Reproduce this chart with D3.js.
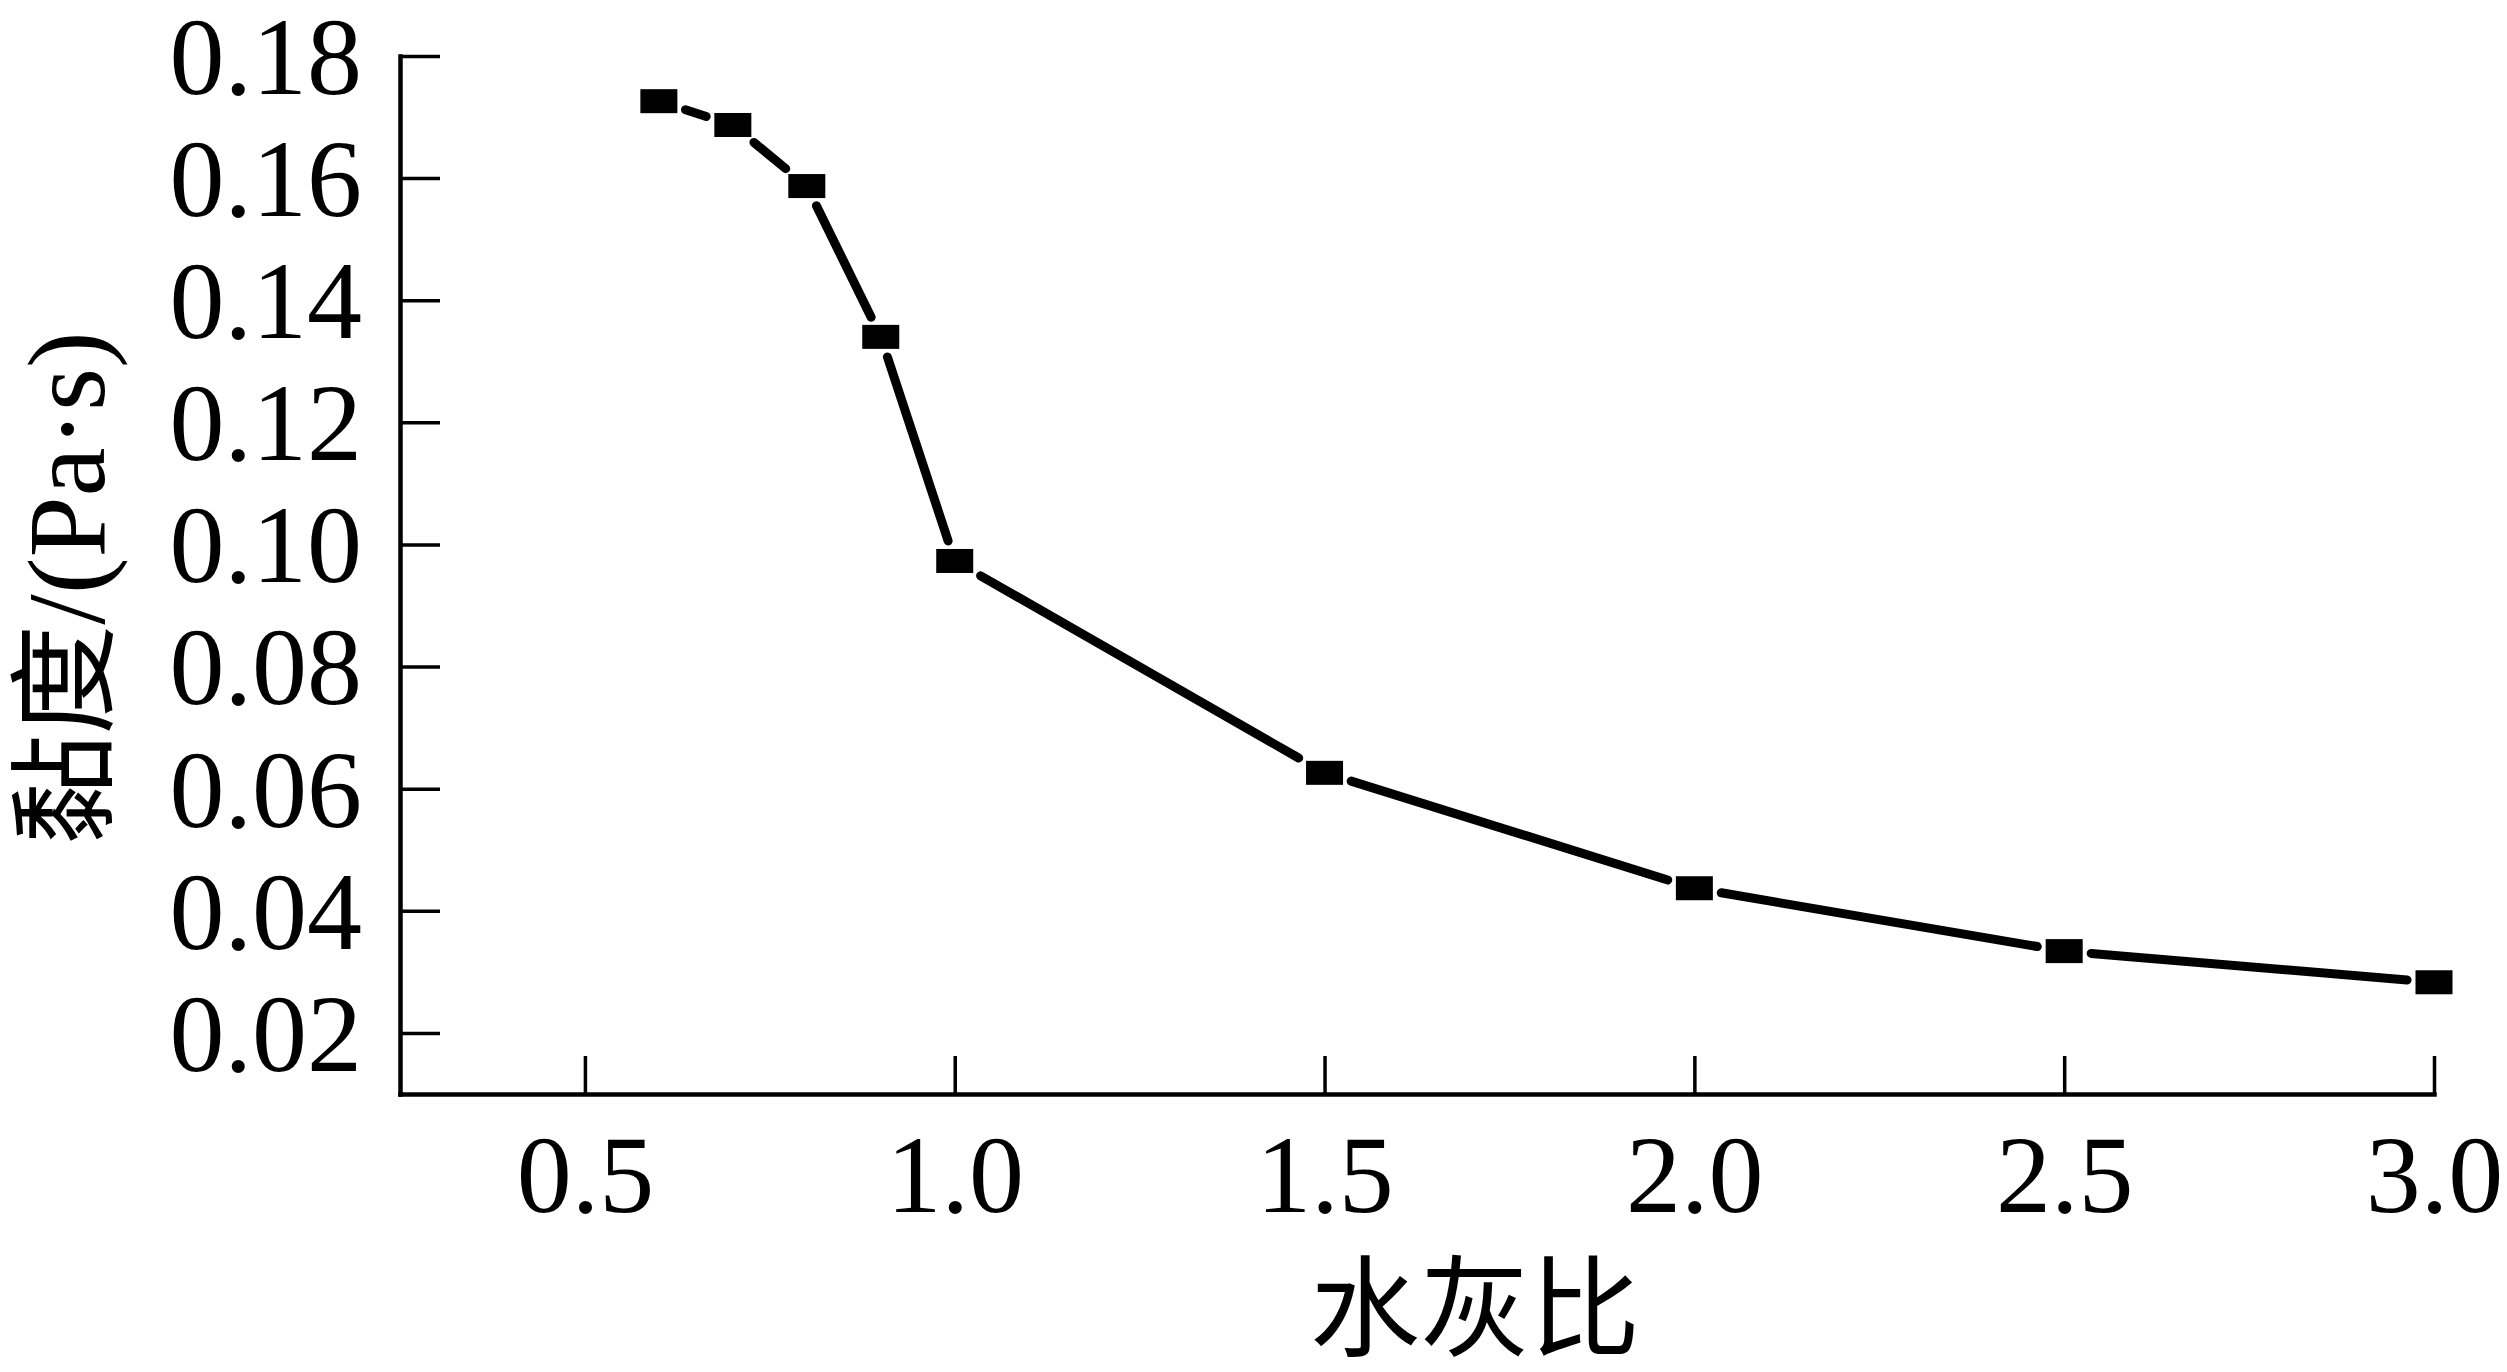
<!DOCTYPE html>
<html>
<head>
<meta charset="utf-8">
<script src="https://cdn.jsdelivr.net/npm/d3@7"></script>
<style>
  html, body { margin: 0; padding: 0; background: #fff; }
  svg { display: block; }
  text { font-family: "Liberation Serif", "Noto Sans CJK SC", serif; fill: #000; }
</style>
</head>
<body>
<svg id="chart" width="2507" height="1372"></svg>
<script>
// water-cement ratio vs viscosity
const ratios = [0.6, 0.7, 0.8, 0.9, 1.0, 1.5, 2.0, 2.5, 3.0];
const viscosity = [0.1726, 0.1687, 0.1587, 0.1340, 0.0973, 0.0626, 0.0437, 0.0334, 0.0283];
const xTicks = [0.5, 1.0, 1.5, 2.0, 2.5, 3.0];
const yTicks = [0.02, 0.04, 0.06, 0.08, 0.10, 0.12, 0.14, 0.16, 0.18];
const xTitle = '水灰比';
const yTitle = '黏度/(Pa·s)';

var svg = d3.select('#chart'),
  width = +svg.attr('width'),
  height = +svg.attr('height');

var margin = { top: 56, right: 73, bottom: 278, left: 400 };

var x = d3.scaleLinear().domain([0.25, 3.0]).range([margin.left, width - margin.right]);
var y = d3.scaleLinear().domain([0.01, 0.18]).range([height - margin.bottom, margin.top]);

var data = ratios.map((r, i) => ({ r: r, v: viscosity[i] }));

// axes, ticks pointing inward
var xAxis = svg.append('g')
  .attr('transform', 'translate(0,' + y.range()[0] + ')')
  .call(d3.axisBottom(x).tickValues(xTicks).tickFormat(d3.format('.1f'))
    .tickSizeInner(-38).tickSizeOuter(0).tickPadding(40));

var yAxis = svg.append('g')
  .attr('transform', 'translate(' + x.range()[0] + ',0)')
  .call(d3.axisLeft(y).tickValues(yTicks).tickFormat(d3.format('.2f'))
    .tickSizeInner(-40).tickSizeOuter(0).tickPadding(38));

[xAxis, yAxis].forEach(g => {
  g.select('.domain').attr('stroke', '#000').attr('stroke-width', 4.5).attr('stroke-linecap', 'square');
  g.selectAll('.tick line').attr('stroke', '#000').attr('stroke-width', 3.5);
  g.selectAll('.tick text').attr('font-size', 110).attr('fill', '#000')
    .style('font-family', '"Liberation Serif", serif');
});
xAxis.selectAll('.tick text').attr('dy', '0.71em');
yAxis.selectAll('.tick text').attr('dy', '0.34em');

// line segments, cut back so they stop short of each marker
var mw = 37, mh = 24, gap = 8.5, lw = 9;

function exitDist(ux, uy) {
  var tx = Math.abs(ux) > 1e-9 ? (mw / 2) / Math.abs(ux) : Infinity;
  var ty = Math.abs(uy) > 1e-9 ? (mh / 2) / Math.abs(uy) : Infinity;
  return Math.min(tx, ty);
}

var segs = d3.pairs(data).map(function(p) {
  var x1 = x(p[0].r), y1 = y(p[0].v), x2 = x(p[1].r), y2 = y(p[1].v);
  var dx = x2 - x1, dy = y2 - y1, len = Math.hypot(dx, dy);
  var ux = dx / len, uy = dy / len;
  var cut = exitDist(ux, uy) + gap;
  return { x1: x1 + ux * cut, y1: y1 + uy * cut, x2: x2 - ux * cut, y2: y2 - uy * cut };
});

svg.append('g')
  .selectAll('line')
  .data(segs)
  .enter()
  .append('line')
  .attr('x1', d => d.x1)
  .attr('y1', d => d.y1)
  .attr('x2', d => d.x2)
  .attr('y2', d => d.y2)
  .attr('stroke', '#000')
  .attr('stroke-width', lw)
  .attr('stroke-linecap', 'round');

svg.append('g')
  .selectAll('rect')
  .data(data)
  .enter()
  .append('rect')
  .attr('x', d => x(d.r) - mw / 2)
  .attr('y', d => y(d.v) - mh / 2)
  .attr('width', mw)
  .attr('height', mh)
  .attr('fill', '#000');

// titles
svg.append('text')
  .attr('x', 1475)
  .attr('y', 1311)
  .attr('text-anchor', 'middle')
  .attr('dominant-baseline', 'central')
  .attr('font-size', 110)
  .text(xTitle);

svg.append('text')
  .attr('transform', 'translate(67,588) rotate(-90)')
  .attr('text-anchor', 'middle')
  .attr('dominant-baseline', 'central')
  .attr('font-size', 110)
  .text(yTitle);
</script>
</body>
</html>
